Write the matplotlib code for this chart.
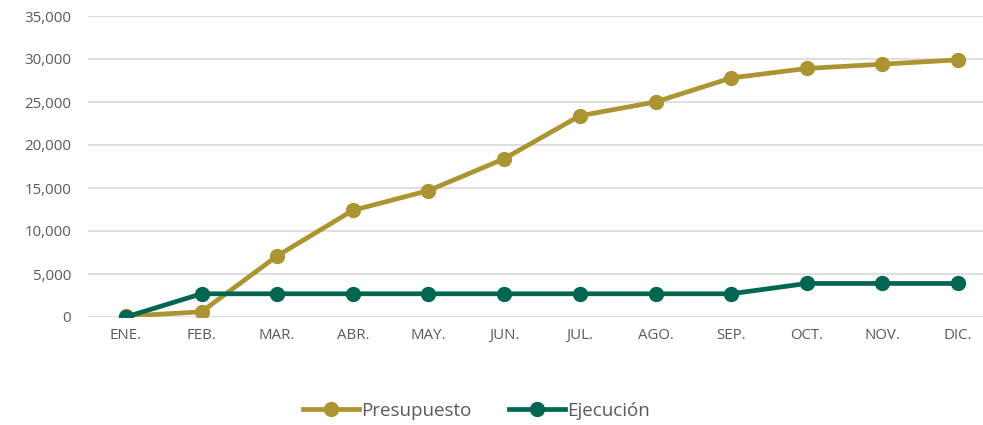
import numpy as np
import matplotlib.pyplot as plt
from matplotlib.ticker import FuncFormatter

meses = ["ENE.", "FEB.", "MAR.", "ABR.", "MAY.", "JUN.", "JUL.", "AGO.", "SEP.", "OCT.", "NOV.", "DIC."]
presupuesto = [100, 600, 7100, 12400, 14700, 18400, 23400, 25000, 27800, 28900, 29400, 29900]
ejecucion = [0, 2700, 2700, 2700, 2700, 2700, 2700, 2700, 2700, 3900, 3900, 3900]

plt.rcParams['font.family'] = ['Open Sans', 'DejaVu Sans']

fig = plt.figure(figsize=(9.83, 4.25), dpi=100)
ax = fig.add_axes([88 / 983, 108 / 425, 908 / 983, 301 / 425])

x = np.arange(len(meses))
ax.plot(x, presupuesto, color="#AB9431", lw=3.4, marker="o", ms=10, label="Presupuesto", zorder=3)
ax.plot(x, ejecucion, color="#006652", lw=3.4, marker="o", ms=10, label="Ejecución", zorder=4)

ax.set_xlim(-0.5, 11.5)
ax.set_ylim(0, 35000)
ax.set_yticks(np.arange(0, 35001, 5000))
ax.yaxis.set_major_formatter(FuncFormatter(lambda v, p: f"{int(v):,}"))
ax.set_xticks(x)
ax.set_xticklabels(meses)
ax.grid(axis="y", color="#D9D9D9", lw=1.2)
ax.set_axisbelow(True)
for s in ax.spines.values():
    s.set_visible(False)
ax.tick_params(length=0, colors="#595959", labelsize=10.8)
ax.tick_params(axis="y", pad=12)
ax.tick_params(axis="x", pad=8)

fig.legend(loc="center", bbox_to_anchor=(476 / 983, 1 - 411 / 425), ncol=2, frameon=False,
           fontsize=13.5, labelcolor="#595959", handlelength=3, columnspacing=2, handletextpad=0.1)

fig.savefig("out.png", dpi=100)
